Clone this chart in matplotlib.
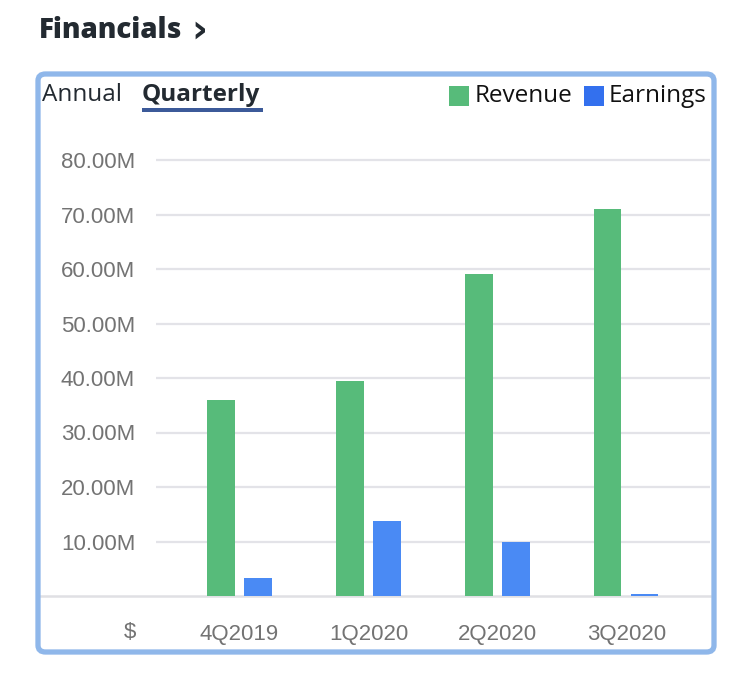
import matplotlib
matplotlib.use("Agg")
import matplotlib.pyplot as plt
from matplotlib.patches import FancyBboxPatch, Rectangle
import numpy as np

quarters = ["4Q2019", "1Q2020", "2Q2020", "3Q2020"]
revenue = [36.0e6, 39.4e6, 59.1e6, 71.0e6]
earnings = [3.3e6, 13.8e6, 9.9e6, 0.35e6]
yticks = [10e6, 20e6, 30e6, 40e6, 50e6, 60e6, 70e6, 80e6]
ytick_labels = ["10.00M", "20.00M", "30.00M", "40.00M", "50.00M", "60.00M", "70.00M", "80.00M"]

GREEN = "#57bb7a"
BLUE = "#4a8af4"
W, H = 750, 675

fig = plt.figure(figsize=(7.5, 6.75), dpi=100)
fig.patch.set_facecolor("white")

def fx(px):
    return px / W

def fy(py):
    return 1 - py / H

# frame
frame = FancyBboxPatch((fx(38), fy(652)), fx(714) - fx(38), fy(74) - fy(652),
                       boxstyle="round,pad=0,rounding_size=0.01",
                       transform=fig.transFigure, facecolor="none",
                       edgecolor="#8fb7ea", linewidth=3.8, zorder=5)
fig.patches.append(frame)

ax = fig.add_axes([fx(156), fy(596), fx(710) - fx(156), fy(149.1) - fy(596)])
ax.set_facecolor("none")
x = np.arange(len(quarters))
bw = 0.213
off = 0.1435
ax.bar(x - off, revenue, width=bw, color=GREEN, zorder=3)
ax.bar(x + off, earnings, width=bw, color=BLUE, zorder=3)
ax.set_xlim(-0.6478, 3.650)
ax.set_ylim(0, 82e6)
for s in ax.spines.values():
    s.set_visible(False)
ax.set_yticks(yticks)
ax.set_yticklabels(ytick_labels, fontsize=16, color="#737373", family="Liberation Sans")
ax.set_xticks(x)
ax.set_xticklabels(quarters, fontsize=16, color="#737373", family="Liberation Sans")
ax.tick_params(axis="y", length=0, pad=15)
ax.tick_params(axis="x", length=0, pad=20)
ax.grid(axis="y", color="#e3e3e8", linewidth=1.6, zorder=0)
# baseline across full frame width
ax.axhline(0, xmin=-(156 - 40) / (710 - 156), xmax=1.0, color="#e0e0e4",
           linewidth=1.8, clip_on=False, zorder=2)

fig.text(fx(136), fy(632), "$", ha="right", va="center", fontsize=16,
         color="#737373", family="Liberation Sans")

# header
fig.text(fx(39), fy(30), "Financials", ha="left", va="center", fontsize=20,
         fontweight="heavy", color="#232a31", family="Open Sans")
fig.text(fx(191), fy(31), "\u203a", ha="left", va="center", fontsize=28,
         fontweight="bold", color="#232a31", family="DejaVu Sans")

fig.text(fx(42), fy(95), "Annual", ha="left", va="center", fontsize=17.5,
         color="#232a31", family="Open Sans")
fig.text(fx(142), fy(95), "Quarterly", ha="left", va="center", fontsize=17.5,
         fontweight="bold", color="#232a31", family="Open Sans")
fig.patches.append(Rectangle((fx(142), fy(112)), fx(263) - fx(142), fy(108) - fy(112),
                             transform=fig.transFigure, facecolor="#3c5a99",
                             edgecolor="none"))

# legend
fig.patches.append(Rectangle((fx(449), fy(106)), fx(469) - fx(449), fy(86) - fy(106),
                             transform=fig.transFigure, facecolor=GREEN, edgecolor="none"))
fig.text(fx(475), fy(96), "Revenue", ha="left", va="center", fontsize=17.5,
         color="#111111", family="Open Sans")
fig.patches.append(Rectangle((fx(584), fy(106)), fx(604) - fx(584), fy(86) - fy(106),
                             transform=fig.transFigure, facecolor="#3370ee", edgecolor="none"))
fig.text(fx(609), fy(96), "Earnings", ha="left", va="center", fontsize=17.5,
         color="#111111", family="Open Sans")

fig.savefig("out.png", dpi=100)
